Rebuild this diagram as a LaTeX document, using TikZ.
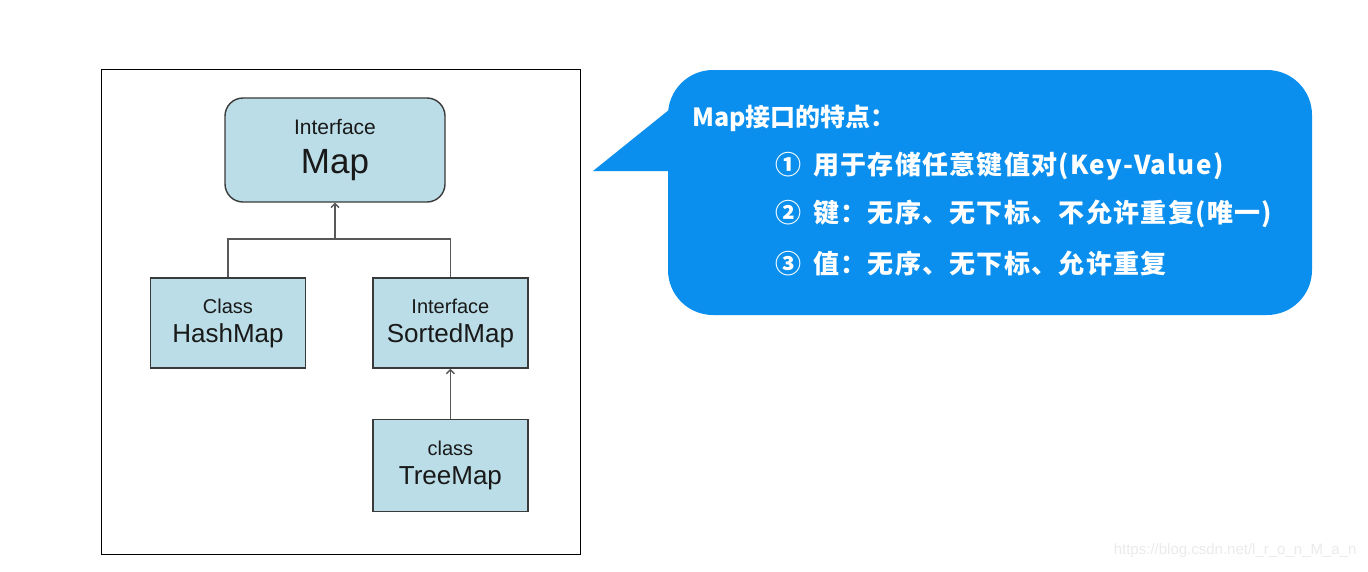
\documentclass[tikz,border=0pt]{standalone}
\usepackage{fontspec}
\setmainfont{Liberation Sans}
\newfontfamily\cjk{Noto Sans CJK SC}
\newfontfamily\cjkwide{Noto Sans CJK SC}[LetterSpace=5]
\usepackage{tikz}
\usetikzlibrary{arrows.meta,positioning,calc}
\usepackage{xcolor}
\definecolor{boxfill}{RGB}{186,221,231}
\definecolor{boxline}{RGB}{58,58,58}
\definecolor{bubbleblue}{RGB}{10,143,238}
\definecolor{inkgray}{RGB}{25,25,25}

\begin{document}
\begin{tikzpicture}[
    x=1pt, y=-1pt,
    typebox/.style={rectangle, draw=boxline, line width=1.4pt, fill=boxfill,
      minimum width=155pt, minimum height=90pt, align=center, text=inkgray,
      inner sep=0pt, font=\fontsize{26}{29}\selectfont},
    topbox/.style={typebox, rounded corners=18pt, minimum width=220pt,
      minimum height=104pt, font=\fontsize{35}{39}\selectfont},
    conn/.style={draw=boxline!85, line width=1.4pt},
    arr/.style={conn, -{Straight Barb[length=4pt, width=8pt]}},
    bubble/.style={rectangle, fill=bubbleblue, rounded corners=45pt,
      minimum width=644pt, minimum height=245pt},
    bubbletext/.style={anchor=west, text=white, inner sep=0pt,
      font=\cjk\bfseries\fontsize{25}{28}\selectfont},
    itemtext/.style={bubbletext, font=\cjkwide\bfseries\fontsize{26}{28}\selectfont}
  ]

  %% Page
  \useasboundingbox[fill=white] (0,0) rectangle (1368,571);

  %% Left frame
  \draw[black, line width=1pt] (101,69) rectangle (580,554);

  %% Type boxes
  \node[topbox] (map) at (335,150)
    {{\fontsize{21}{22}\selectfont Interface}\\Map};
  \node[typebox] (hash) at (228,323)
    {{\fontsize{20}{22}\selectfont Class}\\HashMap};
  \node[typebox, right=66pt of hash] (sorted)
    {{\fontsize{20}{22}\selectfont Interface}\\SortedMap};
  \node[typebox, below=50pt of sorted, minimum height=92pt] (tree)
    {{\fontsize{20}{22}\selectfont class}\\TreeMap};

  %% Connectors
  \coordinate (join) at (map.south |- 0,239);
  \draw[conn] (hash.north) |- (join) -| (sorted.north);
  \draw[arr] (join) -- (map.south);
  \draw[arr] (tree.north) -- (sorted.south);

  %% Callout
  \node[bubble] (bubble) at (990,192.5) {};
  \fill[bubbleblue] (593,171) -- ([xshift=6pt]bubble.west |- 0,171)
    -- ([xshift=6pt]bubble.west |- 0,106) -- cycle;

  \node[bubbletext] (title) at (692,118) {Map接口的特点：};
  \node[itemtext] (item1) at (775,166) {①\hspace{12pt}用于存储任意键值对(Key-Value)};
  \node[itemtext] (item2) at (775,214) {②\hspace{12pt}键：无序、无下标、不允许重复(唯一)};
  \node[itemtext] (item3) at (775,264) {③\hspace{12pt}值：无序、无下标、允许重复};

  %% Watermark
  \node[text=black!8, font=\fontsize{15}{17}\selectfont, anchor=east]
    (mark) at (1360,551) {https://blog.csdn.net/l\_r\_o\_n\_M\_a\_n};

\end{tikzpicture}
\end{document}
